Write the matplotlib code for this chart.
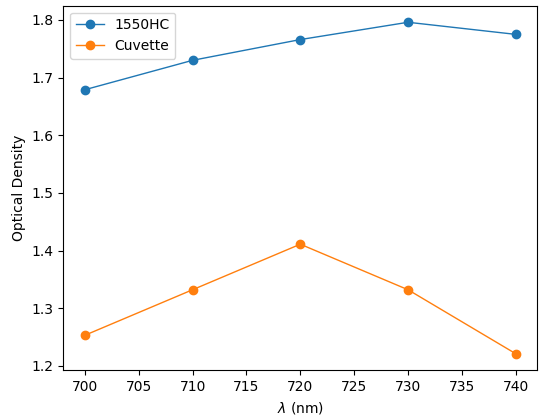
import matplotlib
matplotlib.use('Agg')
import matplotlib.pyplot as plt

wavelength = [700, 710, 720, 730, 740]
od_1550hc = [1.679, 1.730, 1.766, 1.796, 1.775]
od_cuvette = [1.253, 1.332, 1.411, 1.332, 1.221]

fig = plt.figure(figsize=(5.39, 4.2), dpi=100)
# axes box placed to match the reference layout (pixels)
ax = fig.add_axes([63.3 / 539, (420 - 370.3) / 420, (537.3 - 63.3) / 539, (370.3 - 5.7) / 420])

ax.plot(wavelength, od_1550hc, marker='o', linewidth=1, label='1550HC')
ax.plot(wavelength, od_cuvette, marker='o', linewidth=1, label='Cuvette')

ax.set_xlabel(r'$\lambda$ (nm)')
ax.set_ylabel('Optical Density')
ax.legend(loc='upper left')

fig.savefig('out.png', dpi=100)
